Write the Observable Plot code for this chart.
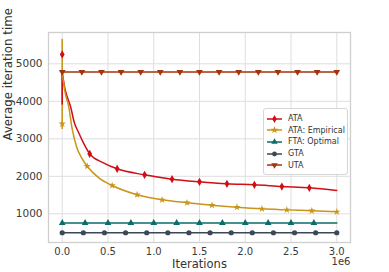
<!DOCTYPE html>
<html>
<head>
<meta charset="utf-8">
<script src="https://cdn.jsdelivr.net/npm/d3@7"></script>
<script src="https://cdn.jsdelivr.net/npm/@observablehq/plot@0.6"></script>
<style>
  html, body { margin: 0; padding: 0; background: #fff; }
  #wrap { position: relative; width: 389px; height: 272px; font-family: "DejaVu Sans", sans-serif; }
  #legend { position: absolute; left: 263px; top: 108px; width: 85px; height: 67px; box-sizing: border-box;
    border: 1px solid #d6d6d6; border-radius: 3px; background: rgba(255,255,255,0.85);
    font-size: 8px; color: #333; padding: 4px 0 0 3px; }
  .row { display: flex; align-items: center; height: 11.6px; white-space: nowrap; }
  .row svg { margin-right: 6px; }
</style>
</head>
<body>
<div id="wrap"></div>
<script>
// ---- data (iterations, average iteration time) ----
const seriesNames = ["ATA", "ATA: Empirical", "FTA: Optimal", "GTA", "UTA"];
const seriesColors = ["#d10d15", "#c8951a", "#0b6d6b", "#3b4856", "#a3330d"];

// ATA mean curve
const ataX = [0, 30000, 60000, 90000, 130000, 180000, 240000, 300000, 450000, 600000, 900000, 1200000, 1500000, 1800000, 2100000, 2400000, 2700000, 3000000];
const ataY = [4780, 4330, 4080, 3870, 3450, 3160, 2850, 2600, 2360, 2200, 2040, 1923, 1853, 1800, 1773, 1728, 1693, 1621];
const ataMarkX = [0, 300000, 600000, 900000, 1200000, 1500000, 1800000, 2100000, 2400000, 2700000];
const ataMarkY = [5250, 2600, 2200, 2040, 1923, 1853, 1800, 1773, 1728, 1693];
const ataErrY1 = 3900, ataErrY2 = 4780;

// ATA: Empirical
const empX = [0, 30000, 70000, 110000, 160000, 210000, 272700, 400000, 545500, 818200, 1090900, 1363600, 1636400, 1909100, 2181800, 2454500, 2727300, 3000000];
const empY = [4780, 4250, 3870, 3250, 2760, 2500, 2270, 1960, 1755, 1510, 1373, 1295, 1229, 1176, 1133, 1105, 1080, 1053];
const empMarkX = [0, 272700, 545500, 818200, 1090900, 1363600, 1636400, 1909100, 2181800, 2454500, 2727300, 3000000];
const empMarkY = [3400, 2270, 1755, 1510, 1373, 1295, 1229, 1176, 1133, 1105, 1080, 1053];
const empErrY1 = 3250, empErrY2 = 5650;

// FTA: Optimal
const ftaX = [0, 3000000];
const ftaY = [755, 755];
const ftaMarkX = [0, 250000, 500000, 750000, 1000000, 1250000, 1500000, 1750000, 2000000, 2250000, 2500000, 2750000];
const ftaMarkY = [755, 755, 755, 755, 755, 755, 755, 755, 755, 755, 755, 755];

// GTA
const gtaX = [0, 3000000];
const gtaY = [495, 495];
const gtaMarkX = [0, 230800, 461500, 692300, 923100, 1153800, 1384600, 1615400, 1846200, 2076900, 2307700, 2538500, 2769200, 3000000];
const gtaMarkY = [495, 495, 495, 495, 495, 495, 495, 495, 495, 495, 495, 495, 495, 495];

// UTA
const utaX = [0, 3000000];
const utaY = [4785, 4785];
const utaMarkX = [0, 214300, 428600, 642900, 857100, 1071400, 1285700, 1500000, 1714300, 1928600, 2142900, 2357100, 2571400, 2785700, 3000000];
const utaMarkY = [4785, 4785, 4785, 4785, 4785, 4785, 4785, 4785, 4785, 4785, 4785, 4785, 4785, 4785, 4785];

const xTicks = [0, 500000, 1000000, 1500000, 2000000, 2500000, 3000000];
const yTicks = [1000, 2000, 3000, 4000, 5000];

// ---- build ----
const pts = (xs, ys) => xs.map((x, i) => ({x, y: ys[i]}));
const [cATA, cEMP, cFTA, cGTA, cUTA] = seriesColors;
const grid = "#dedede";

const chart = Plot.plot({
  width: 389, height: 272,
  marginLeft: 48, marginRight: 39, marginTop: 32, marginBottom: 30,
  style: {fontFamily: "DejaVu Sans, sans-serif", fontSize: "10.5px", color: "#3a3a3a", background: "#fff"},
  x: {domain: [-150000, 3150000]},
  y: {domain: [235, 5835]},
  marks: [
    Plot.gridX(xTicks, {stroke: grid, strokeOpacity: 1, strokeWidth: 1}),
    Plot.gridY(yTicks, {stroke: grid, strokeOpacity: 1, strokeWidth: 1}),
    Plot.frame({stroke: "#cfcfcf", strokeWidth: 1.3}),
    Plot.axisX(xTicks, {tickSize: 0, tickPadding: 5, tickFormat: d => (d / 1e6).toFixed(1), label: null, fontSize: 10}),
    Plot.axisY(yTicks, {tickSize: 0, tickPadding: 6, tickFormat: d => String(d), label: null, fontSize: 10.5}),
    Plot.text(["Iterations"], {frameAnchor: "bottom", dy: 25, fontSize: 11.5, fill: "#333", text: d => d}),
    Plot.text(["1e6"], {frameAnchor: "bottom-right", dy: 22.5, textAnchor: "end", fontSize: 10, fill: "#3a3a3a", text: d => d}),
    Plot.text(["Average iteration time"], {frameAnchor: "left", dx: -40, dy: 3, rotate: -90, fontSize: 11.8, fill: "#333", text: d => d}),
    // error bars at x = 0
    Plot.ruleX([0], {y1: empErrY1, y2: empErrY2, stroke: cEMP, strokeWidth: 1.6}),
    Plot.ruleX([0], {y1: ataErrY1, y2: ataErrY2, stroke: cATA, strokeWidth: 1.6}),
    // ATA
    Plot.line(pts(ataX, ataY), {x: "x", y: "y", stroke: cATA, strokeWidth: 1.5, curve: "monotone-x"}),
    Plot.dot(pts(ataMarkX, ataMarkY), {x: "x", y: "y", symbol: "diamond", r: 2.5, fill: cATA, stroke: "none"}),
    // ATA: Empirical
    Plot.line(pts(empX, empY), {x: "x", y: "y", stroke: cEMP, strokeWidth: 1.5, curve: "monotone-x"}),
    Plot.dot(pts(empMarkX, empMarkY), {x: "x", y: "y", symbol: "star", r: 2.3, fill: cEMP, stroke: "none"}),
    // FTA
    Plot.line(pts(ftaX, ftaY), {x: "x", y: "y", stroke: cFTA, strokeWidth: 1.5}),
    Plot.dot(pts(ftaMarkX, ftaMarkY), {x: "x", y: "y", symbol: "triangle", r: 2.5, fill: cFTA, stroke: "none"}),
    // GTA
    Plot.line(pts(gtaX, gtaY), {x: "x", y: "y", stroke: cGTA, strokeWidth: 1.5}),
    Plot.dot(pts(gtaMarkX, gtaMarkY), {x: "x", y: "y", symbol: "circle", r: 2.6, fill: cGTA, stroke: "none"}),
    // UTA
    Plot.line(pts(utaX, utaY), {x: "x", y: "y", stroke: cUTA, strokeWidth: 1.5}),
    Plot.dot(pts(utaMarkX, utaMarkY), {x: "x", y: "y", symbol: "triangle", rotate: 180, r: 2.5, fill: cUTA, stroke: "none"})
  ]
});

const wrap = document.getElementById("wrap");
wrap.appendChild(chart);

// legend
const symbols = [d3.symbolDiamond, d3.symbolStar, d3.symbolTriangle, d3.symbolCircle, d3.symbolTriangle];
const rotations = [0, 0, 0, 0, 180];
const legend = document.createElement("div");
legend.id = "legend";
seriesNames.forEach((name, i) => {
  const row = document.createElement("div");
  row.className = "row";
  const path = d3.symbol(symbols[i], 18)();
  row.innerHTML = `<svg width="15" height="8" viewBox="0 0 15 8"><line x1="0" x2="15" y1="4" y2="4" stroke="${seriesColors[i]}" stroke-width="1.5"/><path d="${path}" transform="translate(7.5,4) rotate(${rotations[i]})" fill="${seriesColors[i]}"/></svg><span>${name}</span>`;
  legend.appendChild(row);
});
wrap.appendChild(legend);
</script>
</body>
</html>
